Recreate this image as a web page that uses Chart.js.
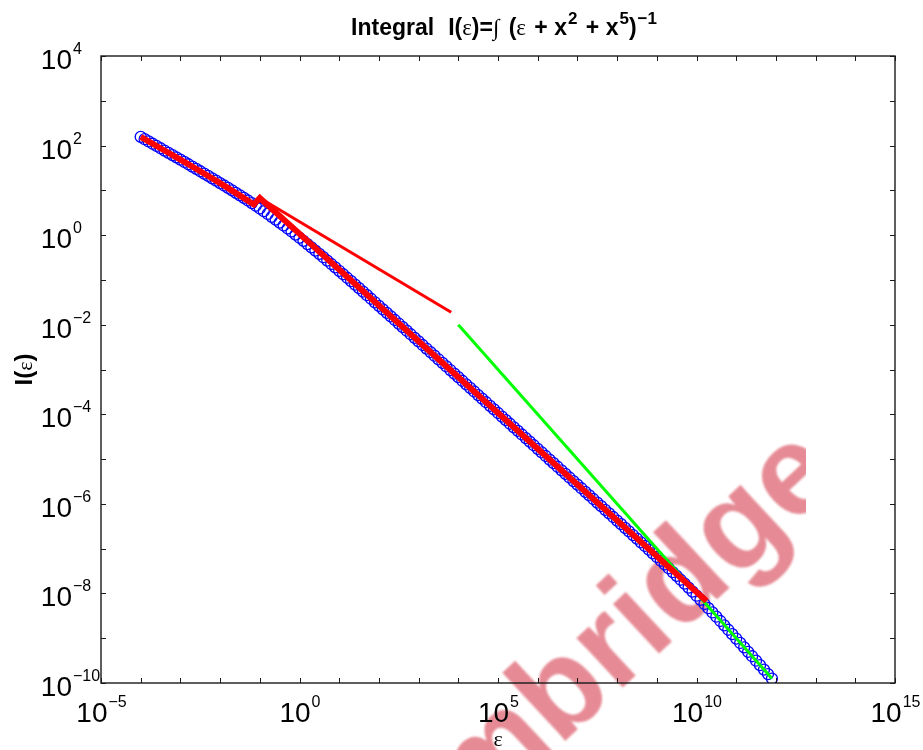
<!DOCTYPE html>
<html><head><meta charset="utf-8">
<script src="https://cdn.jsdelivr.net/npm/chart.js@4.4.0/dist/chart.umd.min.js"></script>
<style>html,body{margin:0;padding:0;background:#fff}#wrap{width:923px;height:750px}</style>
</head><body><div id="wrap"><canvas id="c" width="923" height="750"></canvas></div>
<script>
// log10(epsilon) of the blue circles
const logEps = [
-4.0,-3.9,-3.8,-3.7,-3.6,-3.5,-3.4,-3.3,-3.2,-3.1,
-3.0,-2.9,-2.8,-2.7,-2.6,-2.5,-2.4,-2.3,-2.2,-2.1,
-2.0,-1.9,-1.8,-1.7,-1.6,-1.5,-1.4,-1.3,-1.2,-1.1,
-1.0,-0.9,-0.8,-0.7,-0.6,-0.5,-0.4,-0.3,-0.2,-0.1,
0.0,0.1,0.2,0.3,0.4,0.5,0.6,0.7,0.8,0.9,
1.0,1.1,1.2,1.3,1.4,1.5,1.6,1.7,1.8,1.9,
2.0,2.1,2.2,2.3,2.4,2.5,2.6,2.7,2.8,2.9,
3.0,3.1,3.2,3.3,3.4,3.5,3.6,3.7,3.8,3.9,
4.0,4.1,4.2,4.3,4.4,4.5,4.6,4.7,4.8,4.9,
5.0,5.1,5.2,5.3,5.4,5.5,5.6,5.7,5.8,5.9,
6.0,6.1,6.2,6.3,6.4,6.5,6.6,6.7,6.8,6.9,
7.0,7.1,7.2,7.3,7.4,7.5,7.6,7.7,7.8,7.9,
8.0,8.1,8.2,8.3,8.4,8.5,8.6,8.7,8.8,8.9,
9.0,9.1,9.2,9.3,9.4,9.5,9.6,9.7,9.8,9.9,
10.0,10.1,10.2,10.3,10.4,10.5,10.6,10.7,10.8,10.9,
11.0,11.1,11.2,11.3,11.4,11.5,11.6,11.7,11.8,11.9];
// log10(I) of the blue circles
const logI = [
2.193,2.142,2.092,2.041,1.991,1.940,1.889,1.839,1.788,1.737,
1.685,1.634,1.583,1.531,1.479,1.427,1.375,1.322,1.269,1.216,
1.163,1.109,1.054,0.999,0.944,0.887,0.831,0.773,0.715,0.656,
0.595,0.534,0.473,0.410,0.346,0.281,0.215,0.148,0.081,0.012,
-0.058,-0.128,-0.200,-0.272,-0.345,-0.419,-0.493,-0.568,-0.644,-0.720,
-0.796,-0.873,-0.951,-1.028,-1.106,-1.184,-1.262,-1.341,-1.420,-1.499,
-1.578,-1.657,-1.736,-1.815,-1.895,-1.974,-2.054,-2.134,-2.213,-2.293,
-2.373,-2.453,-2.532,-2.612,-2.692,-2.772,-2.852,-2.932,-3.012,-3.092,
-3.171,-3.251,-3.331,-3.411,-3.491,-3.571,-3.651,-3.731,-3.811,-3.891,
-3.971,-4.051,-4.131,-4.211,-4.291,-4.371,-4.451,-4.531,-4.611,-4.691,
-4.771,-4.851,-4.931,-5.011,-5.091,-5.171,-5.251,-5.331,-5.411,-5.491,
-5.571,-5.652,-5.732,-5.812,-5.892,-5.972,-6.052,-6.133,-6.213,-6.293,
-6.374,-6.454,-6.535,-6.615,-6.696,-6.777,-6.859,-6.940,-7.022,-7.104,
-7.187,-7.270,-7.353,-7.438,-7.523,-7.608,-7.695,-7.782,-7.871,-7.961,
-8.051,-8.143,-8.236,-8.330,-8.425,-8.520,-8.616,-8.713,-8.811,-8.909,
-9.007,-9.106,-9.204,-9.304,-9.403,-9.502,-9.602,-9.701,-9.801,-9.901];
// thick red approximation
const redThickLogEps = [-4.0,-3.5,-3.0,-2.5,-2.0,-1.5,-1.15,-1.0,10.25];
const redThickLogI   = [2.193,1.940,1.685,1.427,1.161,0.882,0.686,0.829,-8.171];
// thin red asymptote
const redThinLogEps = [-1.0,3.82];
const redThinLogI   = [0.829,-1.72];
// green asymptote
const greenLogEps = [4.0,11.9];
const greenLogI   = [-2.0,-9.9];
// tick labels (powers of ten)
const xTickExps = [-5,0,5,10,15];
const yTickExps = [-10,-8,-6,-4,-2,0,2,4];
const xMinor = [-5,-4,-3,-2,-1,0,1,2,3,4,5,6,7,8,9,10,11,12,13,14,15];
const yMinor = [-10,-9,-8,-7,-6,-5,-4,-3,-2,-1,0,1,2,3,4];

const pts = (xs, ys) => xs.map((v, i) => ({x: v, y: ys[i]}));
const expText = e => (e < 0 ? '\u2212' + (-e) : String(e));

function drawPow(ctx, exp, x, yBase, mode) {
  const bf = '28px "Liberation Sans", Arial, sans-serif';
  const ef = '16px "Liberation Sans", Arial, sans-serif';
  const et = expText(exp);
  ctx.font = bf; const wb = ctx.measureText('10').width;
  ctx.font = ef; const we = ctx.measureText(et).width;
  const x0 = mode === 'center' ? x - (wb + we) / 2 : x - wb;
  ctx.textAlign = 'left'; ctx.textBaseline = 'alphabetic';
  ctx.font = bf; ctx.fillText('10', x0, yBase);
  ctx.font = ef; ctx.fillText(et, x0 + wb + 1, yBase - 15);
}

function drawRuns(ctx, runs, cx, y) {
  let total = 0;
  runs.forEach(r => { ctx.font = r.f; r.w = ctx.measureText(r.t).width + (r.gap || 0); total += r.w; });
  let x = cx - total / 2;
  ctx.textAlign = 'left'; ctx.textBaseline = 'alphabetic';
  runs.forEach(r => { ctx.font = r.f; ctx.fillText(r.t, x, y - (r.up || 0)); x += r.w; });
}

const deco = {
  id: 'deco',
  beforeDatasetsDraw(chart) {
    const ctx = chart.ctx;
    ctx.save();
    ctx.beginPath(); ctx.rect(0, 0, 806, 750); ctx.clip();
    ctx.translate(845, 480);
    ctx.rotate(-43 * Math.PI / 180);
    ctx.filter = 'blur(1px)';
    ctx.font = 'bold 128px "Liberation Sans", Arial, sans-serif';
    ctx.fillStyle = 'rgba(214,62,78,0.6)';
    ctx.textAlign = 'right'; ctx.textBaseline = 'alphabetic';
    ctx.fillText('Cambridge', 0, 0);
    ctx.restore();
  },
  afterDraw(chart) {
    const {ctx, chartArea: a, scales: {x, y}} = chart;
    ctx.save();
    ctx.strokeStyle = '#1a1a1a'; ctx.lineWidth = 1.4;
    ctx.strokeRect(a.left, a.top, a.right - a.left, a.bottom - a.top);
    ctx.lineWidth = 1;
    ctx.beginPath();
    xMinor.forEach(v => {
      const px = Math.round(x.getPixelForValue(v)) + 0.5;
      ctx.moveTo(px, a.bottom); ctx.lineTo(px, a.bottom - 5);
      ctx.moveTo(px, a.top); ctx.lineTo(px, a.top + 5);
    });
    yMinor.forEach(v => {
      const py = Math.round(y.getPixelForValue(v)) + 0.5;
      ctx.moveTo(a.left, py); ctx.lineTo(a.left + 5, py);
      ctx.moveTo(a.right, py); ctx.lineTo(a.right - 5, py);
    });
    ctx.stroke();
    ctx.fillStyle = '#000';
    xTickExps.forEach(e => drawPow(ctx, e, x.getPixelForValue(e), 722, 'center'));
    yTickExps.forEach(e => drawPow(ctx, e, 72, y.getPixelForValue(e) + 13, 'right'));
    // x axis title
    ctx.font = '22px "Liberation Serif", "DejaVu Serif", serif';
    ctx.textAlign = 'center';
    ctx.fillText('\u03b5', (a.left + a.right) / 2, 746);
    // y axis title
    ctx.save();
    ctx.translate(32, (a.top + a.bottom) / 2);
    ctx.rotate(-Math.PI / 2);
    drawRuns(ctx, [
      {t: 'I(', f: 'bold 24px "Liberation Sans", Arial, sans-serif'},
      {t: '\u03b5', f: '22px "Liberation Serif", "DejaVu Serif", serif'},
      {t: ')', f: 'bold 24px "Liberation Sans", Arial, sans-serif'}
    ], 0, 0);
    ctx.restore();
    // title
    const B = 'bold 23px "Liberation Sans", Arial, sans-serif';
    const S = 'bold 17px "Liberation Sans", Arial, sans-serif';
    const G = '23px "Liberation Serif", "DejaVu Serif", serif';
    drawRuns(ctx, [
      {t: 'Integral', f: B, gap: 14}, {t: 'I(', f: B}, {t: '\u03b5', f: G}, {t: ')=', f: B},
      {t: '\u222b', f: G, gap: 3}, {t: ' (', f: B}, {t: '\u03b5', f: G, gap: 2},
      {t: ' + x', f: B, gap: 1}, {t: '2', f: S, up: 11, gap: 2}, {t: ' + x', f: B, gap: 1},
      {t: '5', f: S, up: 11}, {t: ')', f: B, gap: 1}, {t: '\u22121', f: S, up: 11}
    ], 504, 35);
    ctx.restore();
  }
};

new Chart(document.getElementById('c'), {
  type: 'scatter',
  data: {datasets: [
    {label: 'approx', data: pts(redThickLogEps, redThickLogI), showLine: true, borderColor: '#ff0000',
     borderWidth: 6, pointRadius: 0, borderJoinStyle: 'miter', order: 0},
    {label: 'small eps', data: pts(redThinLogEps, redThinLogI), showLine: true, borderColor: '#ff0000',
     borderWidth: 3, pointRadius: 0, order: 1},
    {label: 'large eps', data: pts(greenLogEps, greenLogI), showLine: true, borderColor: '#00ff00',
     borderWidth: 3, pointRadius: 0, order: 2},
    {label: 'I(eps)', data: pts(logEps, logI), showLine: false, pointRadius: 5.5, pointBorderWidth: 1.3,
     pointBorderColor: '#0000ff', pointBackgroundColor: 'rgba(0,0,0,0)', order: 3}
  ]},
  options: {
    responsive: false, animation: false, devicePixelRatio: 1,
    layout: {padding: {top: 56, right: 28, left: 0, bottom: 0}},
    plugins: {legend: {display: false}, tooltip: {enabled: false}, title: {display: false}},
    scales: {
      x: {type: 'linear', min: -5, max: 15, grid: {display: false}, border: {display: false},
          ticks: {display: false}, afterFit(s) { s.height = 67; }},
      y: {type: 'linear', min: -10, max: 4, grid: {display: false}, border: {display: false},
          ticks: {display: false}, afterFit(s) { s.width = 101; }}
    }
  },
  plugins: [deco]
});
</script>
</body></html>
